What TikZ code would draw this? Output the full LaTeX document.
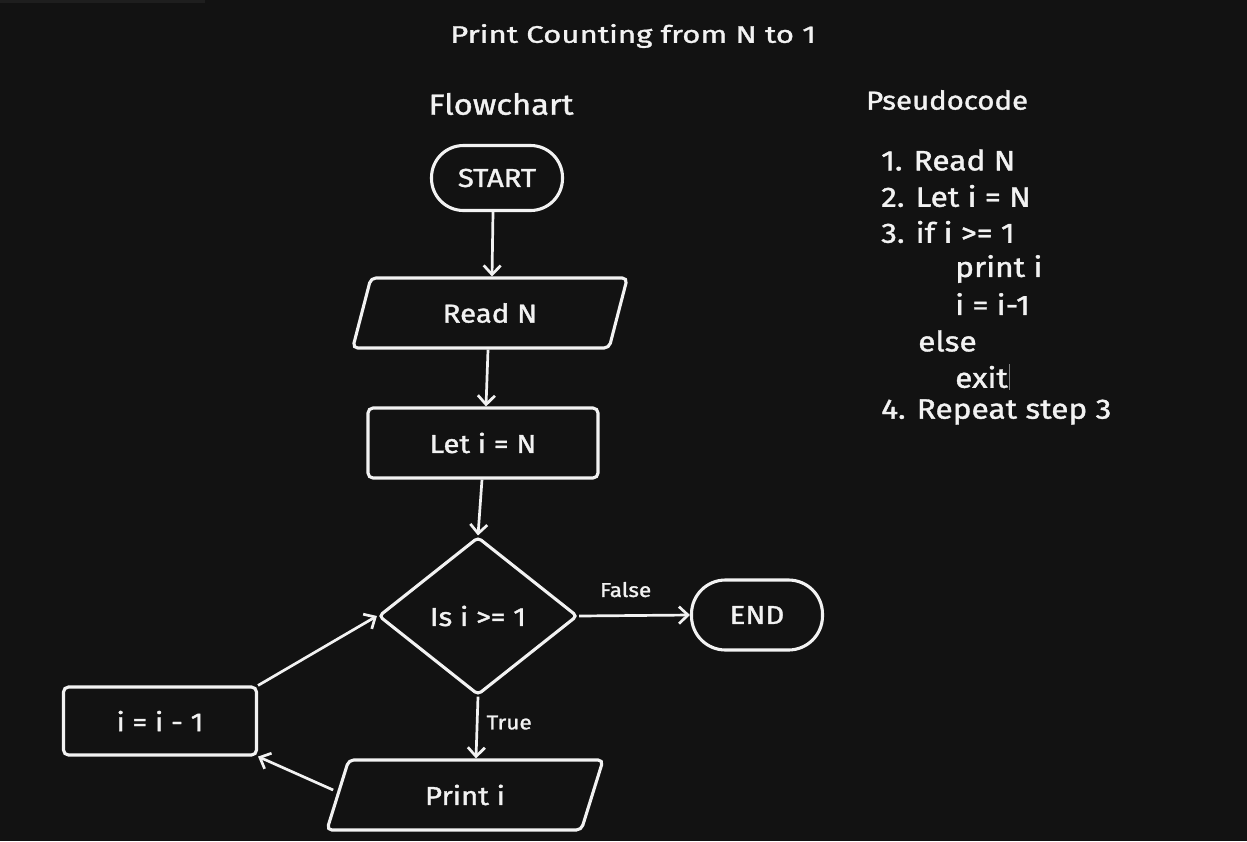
\documentclass[tikz,border=0pt]{standalone}
\usepackage{fontspec}
\setmainfont{Fira Sans}[FakeStretch=1.13, FakeBold=1.3]
\newfontfamily\handwide{Fira Sans}[FakeStretch=1.3, FakeBold=1.3]
\usetikzlibrary{shapes.geometric,arrows.meta,calc}
\definecolor{bg}{HTML}{121212}
\definecolor{ink}{HTML}{F2F2F2}
\definecolor{barc}{HTML}{1E1E1E}
\tikzset{
  box/.style={draw=ink, line width=3.1pt, text=ink, font=\fontsize{26}{30}\selectfont, inner sep=0pt},
  term/.style={box, rectangle, rounded corners=32pt, minimum width=131pt, minimum height=65pt},
  procbox/.style={box, rectangle, rounded corners=5pt},
  iobox/.style={box, trapezium, trapezium left angle=70, trapezium right angle=110, trapezium stretches=true, rounded corners=5pt},
  decbox/.style={box, diamond, rounded corners=4pt},
  arr/.style={draw=ink, line width=2.7pt, -{Straight Barb[length=9pt,width=17pt,line width=2.7pt]}},
  lbl/.style={text=ink, font=\fontsize{20}{24}\selectfont, inner sep=0pt},
  head/.style={text=ink, font=\fontsize{29}{33}\selectfont, inner sep=0pt},
  code/.style={text=ink, font=\fontsize{28}{32}\selectfont, inner sep=0pt, anchor=west}
}
\begin{document}
\begin{tikzpicture}[x=1pt,y=-1pt]
\fill[bg] (0,0) rectangle (1247,841);
\useasboundingbox (0,0) rectangle (1247,841);
\fill[barc] (0,0) rectangle (205,3);

\node[head, font=\handwide\fontsize{24}{28}\selectfont] (title) at (633,36) {Print Counting from N to 1};
\node[head] (fc) at (501,104) {Flowchart};
\node[head, anchor=west, font=\fontsize{26}{30}\selectfont] (ps) at (866,100) {Pseudocode};

\node[code] (c1) at (881,160) {1. Read N};
\node[code] (c2) at (881,196) {2. Let i = N};
\node[code] (c3) at (881,232) {3. if i >= 1};
\node[code] (c4) at (955,269) {print i};
\node[code] (c5) at (955,304) {i = i-1};
\node[code] (c6) at (918,341) {else};
\node[code] (c7) at (955,377) {exit};
\node[code] (c8) at (881,412) {4. Repeat step 3};
\coordinate (cur1) at ($(c7.east)+(1,-13)$);
\coordinate (cur2) at ($(c7.east)+(1,13)$);
\draw[line width=0.8pt, draw=gray] (cur1) -- (cur2);

\node[term] (start) at (497,178) {START};
\node[iobox, minimum width=275pt, minimum height=70pt] (read) at (490,313) {Read N};
\node[procbox, minimum width=230pt, minimum height=70pt] (let) at (483,443) {Let i = N};
\node[decbox, minimum width=199pt, minimum height=158pt] (dec) at (478,616) {Is i >= 1};
\node[term, minimum width=131pt, minimum height=70pt, rounded corners=34pt] (end) at (757,615) {END};
\node[iobox, minimum width=277pt, minimum height=70pt] (print) at (465,795) {Print i};
\node[procbox, minimum width=193pt, minimum height=68pt] (dec2) at (160,721) {i = i - 1};

\draw[arr] ([xshift=-4pt]start.south) -- ([xshift=2pt]read.north);
\draw[arr] ([xshift=-2pt]read.south) -- ([xshift=3pt]let.north);
\draw[arr] ([xshift=-1pt]let.south) -- (dec.north);
\draw[arr] (dec.east) -- node[lbl, pos=0.42, yshift=26pt] (lf) {False} (end.west);
\draw[arr] (dec.south) -- node[lbl, pos=0.42, xshift=32pt] (lt) {True} ([xshift=11pt]print.north);
\draw[arr] ([xshift=-3pt,yshift=5pt]print.west) -- (dec2.south east);
\draw[arr] (dec2.north east) -- (dec.west);
\end{tikzpicture}
\end{document}
